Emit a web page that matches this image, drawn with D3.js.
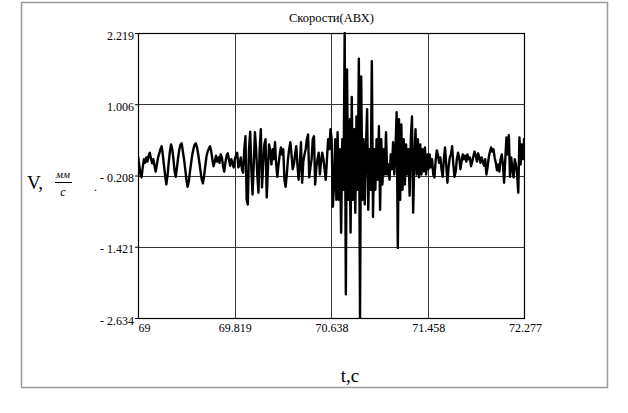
<!DOCTYPE html>
<html>
<head>
<meta charset="utf-8">
<script src="https://cdn.jsdelivr.net/npm/d3@7"></script>
<style>
  html, body { margin: 0; padding: 0; background: #fff; }
  svg { display: block; }
  text { font-family: "Liberation Serif", "Times New Roman", serif; fill: #000; }
</style>
</head>
<body>
<svg id="chart" width="628" height="413"></svg>
<script>
// ---- data ----
const chartTitle = "Скорости(АВХ)";
const xTicks = [69, 69.819, 70.638, 71.458, 72.277];
const yTicks = [2.219, 1.006, -0.208, -1.421, -2.634];
const tStart = 69;      // first sample time, s
const tStep = 0.01;     // sample spacing, s
const speed = [
  0.12,-0.02,-0.19,-0.24,-0.07,0.07,0.01,0.10,0.03,0.13,
  0.18,0.08,0.00,0.07,-0.04,-0.14,-0.02,0.10,0.17,0.24,
  0.29,0.15,-0.04,-0.21,-0.36,-0.21,0.01,0.20,0.32,0.24,
  0.07,-0.14,-0.23,-0.07,0.10,0.24,0.32,0.34,0.20,0.07,
  -0.10,-0.28,-0.40,-0.31,-0.14,0.01,0.15,0.25,0.32,0.34,
  0.27,0.15,0.01,-0.14,-0.28,-0.34,-0.21,-0.04,0.12,0.20,
  0.25,0.29,0.20,0.07,-0.05,0.03,0.13,0.03,0.10,0.01,
  0.15,0.10,-0.04,-0.14,0.01,0.13,0.17,0.07,-0.04,0.07,
  0.00,-0.07,0.07,
  0.13,0.18,-0.07,-0.02,0.10,-0.10,-0.16,0.24,0.46,-0.62,
  -0.70,0.24,0.54,-0.10,-0.53,-0.02,0.53,0.24,-0.19,-0.50,
  0.24,0.58,-0.41,-0.02,0.32,0.41,-0.58,-0.10,0.32,0.20,
  -0.02,0.24,0.07,0.36,-0.02,-0.23,-0.02,0.15,0.27,0.15,
  0.24,-0.28,-0.40,-0.19,0.07,0.24,0.36,0.15,-0.10,-0.02,
  0.15,0.29,-0.02,-0.28,-0.02,0.36,-0.33,0.03,0.15,0.24,
  0.41,0.49,-0.24,-0.07,0.07,0.41,0.46,-0.36,-0.07,0.07,
  0.18,-0.19,0.03,0.18,0.07,-0.10,-0.28,0.07,0.41,0.24,
  0.58,0.41,
  -0.74,-0.36,0.41,-0.62,0.53,-0.62,0.24,-1.18,0.41,-0.45,
  2.219,-2.23,1.60,-0.62,0.75,-1.18,1.13,-0.62,0.58,-0.84,
  0.80,-0.45,1.78,-2.634,1.48,-0.62,0.41,-0.70,0.24,0.92,
  -0.79,0.24,-0.45,1.74,-0.91,0.24,-0.45,0.41,-0.28,0.63,
  -0.79,0.41,-0.36,0.24,-0.19,0.53,-0.19,-0.02,-0.28,0.15,
  -0.10,0.36,-0.19,0.24,0.87,-1.44,0.75,-0.62,0.66,-0.45,
  0.41,-0.36,0.32,-0.19,0.24,-0.55,0.41,0.80,-0.84,0.07,
  0.58,-0.19,0.41,-0.24,0.32,-0.19,0.24,-0.14,0.27,-0.19,
  0.15,-0.10,
  0.15,-0.07,0.07,-0.19,-0.24,0.03,0.22,0.15,0.01,0.10,
  -0.10,-0.23,0.07,0.27,-0.02,-0.33,-0.07,0.10,0.15,0.29,
  -0.02,-0.23,-0.14,0.07,0.18,0.10,-0.10,0.03,0.15,0.07,
  0.13,0.03,0.15,0.07,0.10,-0.05,0.03,0.12,0.20,0.13,
  0.03,0.17,0.10,0.01,0.10,0.03,-0.04,0.07,-0.19,-0.07,
  0.10,0.20,0.27,0.20,0.24,0.10,0.01,-0.12,-0.02,-0.14,
  0.07,0.15,-0.02,-0.33,0.07,0.44,0.15,0.48,-0.23,0.10,
  -0.10,-0.24,0.07,-0.02,-0.19,-0.50,0.44,-0.02,0.32,0.07,
  0.43
];

// ---- layout ----
const W = 628, H = 413;
const plot = { left: 138, right: 525, top: 33, bottom: 318 };
const svg = d3.select("#chart");
const serif = "'Liberation Serif', 'Times New Roman', serif";

svg.append("rect").attr("width", W).attr("height", H).attr("fill", "#fff");
// outer frame
svg.append("rect")
  .attr("x", 21.5).attr("y", 2.5).attr("width", 586).attr("height", 385)
  .attr("fill", "none").attr("stroke", "#9a9a9a").attr("stroke-width", 1.5);

const x = d3.scaleLinear().domain([xTicks[0], xTicks[xTicks.length - 1]]).range([plot.left, plot.right]);
const y = d3.scaleLinear().domain([yTicks[yTicks.length - 1], yTicks[0]]).range([plot.bottom, plot.top]);

// grid lines
const grid = svg.append("g").attr("stroke", "#333").attr("stroke-width", 1);
xTicks.slice(1, -1).forEach(v => {
  const px = Math.round(x(v)) + 0.5;
  grid.append("line").attr("x1", px).attr("x2", px).attr("y1", plot.top).attr("y2", plot.bottom);
});
yTicks.slice(1, -1).forEach(v => {
  const py = Math.round(y(v)) + 0.5;
  grid.append("line").attr("x1", plot.left).attr("x2", plot.right).attr("y1", py).attr("y2", py);
});

// data line
svg.append("clipPath").attr("id", "clip")
  .append("rect").attr("x", plot.left).attr("y", plot.top - 1)
  .attr("width", plot.right - plot.left).attr("height", plot.bottom - plot.top + 2);

const line = d3.line()
  .x((d, i) => x(tStart + i * tStep))
  .y(d => y(d));

svg.append("path")
  .datum(speed)
  .attr("clip-path", "url(#clip)")
  .attr("d", line)
  .attr("fill", "none")
  .attr("stroke", "#000")
  .attr("stroke-width", 2.4)
  .attr("stroke-linejoin", "round");

// plot box
svg.append("rect")
  .attr("x", plot.left + 0.5).attr("y", plot.top + 0.5)
  .attr("width", plot.right - plot.left - 1).attr("height", plot.bottom - plot.top)
  .attr("fill", "none").attr("stroke", "#000").attr("stroke-width", 1.2);

// y axis
const fmtY = v => (v < 0 ? "- " + Math.abs(v).toFixed(3) : v.toFixed(3));
const yAxis = svg.append("g")
  .attr("transform", `translate(${plot.left},0)`)
  .call(d3.axisLeft(y).tickValues(yTicks).tickFormat(fmtY).tickSize(3).tickPadding(1));
yAxis.attr("font-family", null);
yAxis.select(".domain").remove();
yAxis.selectAll("line").attr("stroke", "#000");
yAxis.selectAll("text")
  .style("font-family", serif)
  .attr("font-size", 12).attr("dy", "0.5em");

// x axis
const fmtX = v => (v === xTicks[0] ? String(v) : v.toFixed(3));
const xAxis = svg.append("g")
  .attr("transform", `translate(0,${plot.bottom})`)
  .call(d3.axisBottom(x).tickValues(xTicks).tickFormat(fmtX).tickSize(0).tickPadding(5));
xAxis.attr("font-family", null);
xAxis.select(".domain").remove();
xAxis.selectAll("text")
  .style("font-family", serif)
  .attr("font-size", 12);
xAxis.selectAll(".tick").filter(d => d === xTicks[0]).select("text").attr("text-anchor", "start");

// title
svg.append("text")
  .attr("x", (plot.left + plot.right) / 2).attr("y", 22)
  .attr("text-anchor", "middle").attr("font-size", 12.5)
  .text(chartTitle);

// y axis title  V, мм/c
svg.append("text").attr("x", 27).attr("y", 189).attr("font-size", 19).text("V,");
svg.append("text").attr("x", 63).attr("y", 178).attr("text-anchor", "middle")
  .attr("font-size", 11).attr("font-style", "italic").text("мм");
svg.append("line").attr("x1", 55).attr("x2", 72).attr("y1", 182.5).attr("y2", 182.5)
  .attr("stroke", "#000").attr("stroke-width", 1);
svg.append("text").attr("x", 63).attr("y", 196).attr("text-anchor", "middle")
  .attr("font-size", 12).attr("font-style", "italic").text("c");
svg.append("text").attr("x", 94).attr("y", 191).attr("font-size", 12).text(".");

// x axis title
svg.append("text").attr("x", 350).attr("y", 382).attr("text-anchor", "middle")
  .attr("font-size", 19).text("t,c");
</script>
</body>
</html>
